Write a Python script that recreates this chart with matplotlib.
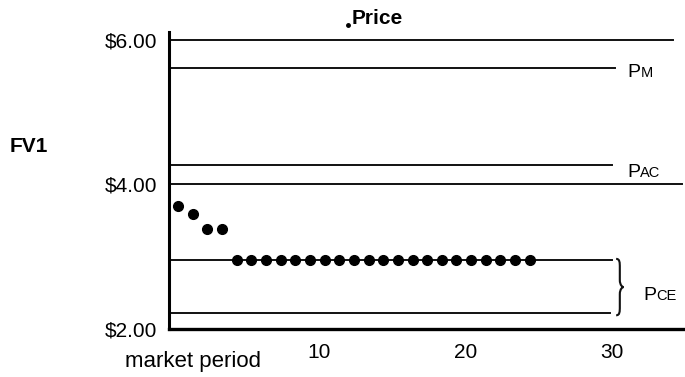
import matplotlib.pyplot as plt
from matplotlib.path import Path
from matplotlib.patches import PathPatch
from matplotlib.transforms import ScaledTranslation

plt.rcParams['font.family'] = ['Liberation Sans', 'DejaVu Sans']

# price per market period (FV1)
periods = list(range(1, 26))
prices = [3.70, 3.59, 3.38, 3.38] + [2.96] * 21

# reference price levels: (level, right end of line)
level_lines = [(6.00, 34.8), (5.61, 30.8), (4.27, 30.6), (4.00, 35.4),
               (2.95, 30.6), (2.22, 30.5)]
level_labels = [('P', 'M', 5.49, 31.7), ('P', 'AC', 4.10, 31.7),
                ('P', 'CE', 2.40, 32.75)]

y_ticks = [2, 4, 6]
y_ticklabels = ['$2.00', '$4.00', '$6.00']
x_ticks = [10, 20, 30]

fig = plt.figure(figsize=(6.85, 3.77), dpi=100)
ax = fig.add_axes([0.246, 0.1273, 0.754, 0.788])

for y, xend in level_lines:
    ax.plot([0.34, xend], [y, y], color='#111111', lw=1.4, clip_on=False)

ax.plot(periods, prices, 'o', color='black', ms=7, zorder=3)

for p, sub, y, x in level_labels:
    ax.text(x, y, p, fontsize=14, va='baseline', ha='left')
    ax.annotate(sub, xy=(x, y), xytext=(9, 0), textcoords='offset points',
                fontsize=10.5, va='baseline', ha='left')

# brace next to the P_CE band
xl, xm, xr = 30.9, 31.15, 31.4
yt, yb = 2.97, 2.19
ym = (yt + yb) / 2
verts = [(xl, yt), (xm, yt), (xm, yt - 0.05), (xm, yt - 0.12),
         (xm, ym + 0.1),
         (xm, ym + 0.02), (xr - 0.05, ym), (xr, ym),
         (xr - 0.05, ym), (xm, ym - 0.02), (xm, ym - 0.1),
         (xm, yb + 0.12),
         (xm, yb + 0.05), (xm, yb), (xl, yb)]
codes = [Path.MOVETO, Path.CURVE4, Path.CURVE4, Path.CURVE4,
         Path.LINETO,
         Path.CURVE4, Path.CURVE4, Path.CURVE4,
         Path.CURVE4, Path.CURVE4, Path.CURVE4,
         Path.LINETO,
         Path.CURVE4, Path.CURVE4, Path.CURVE4]
ax.add_patch(PathPatch(Path(verts, codes), fill=False, lw=1.5,
                       color='#111111', clip_on=False))

ax.set_xlim(0.34, 35.6)
ax.set_ylim(2.0, 6.11)
ax.set_yticks(y_ticks)
ax.set_yticklabels(y_ticklabels, fontsize=15)
ax.set_xticks(x_ticks)
ax.set_xticklabels([str(t) for t in x_ticks], fontsize=15)
ax.tick_params(axis='y', length=0, pad=8)
ax.tick_params(axis='x', length=0, pad=10)
shift = ScaledTranslation(9 / 100, 0, fig.dpi_scale_trans)
for lbl in ax.get_xticklabels():
    lbl.set_transform(lbl.get_transform() + shift)

for s in ['top', 'right']:
    ax.spines[s].set_visible(False)
ax.spines['left'].set_linewidth(2.2)
ax.spines['bottom'].set_linewidth(2.4)

fig.text(377 / 685, 1 - 18 / 377, 'Price', fontsize=15, fontweight='bold',
         ha='center', va='center')
ax.plot([348 / 685], [1 - 25 / 377], 'o', color='black', ms=2.5,
        transform=fig.transFigure, clip_on=False)
fig.text(10 / 685, 1 - 146 / 377, 'FV1', fontsize=15, fontweight='bold',
         ha='left', va='center')
fig.text(125 / 685, 1 - 367 / 377, 'market period', fontsize=16,
         ha='left', va='baseline')

fig.savefig('out.png', dpi=100)
